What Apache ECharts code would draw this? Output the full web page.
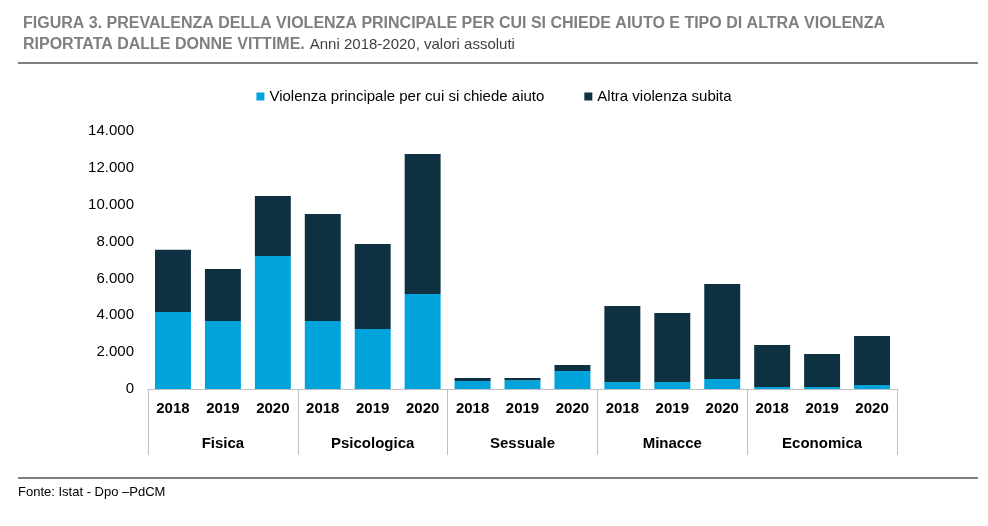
<!DOCTYPE html>
<html><head><meta charset="utf-8">
<script src="https://cdn.jsdelivr.net/npm/echarts@6/dist/echarts.min.js"></script>
<style>body{margin:0}#c{width:988px;height:526px}</style></head>
<body><div id="c"></div>
<script>
const years = ['2018','2019','2020','2018','2019','2020','2018','2019','2020','2018','2019','2020','2018','2019','2020'];
const groups = ['Fisica','Psicologica','Sessuale','Minacce','Economica'];
const principale = [4180,3690,7220, 3690,3260,5150, 430,480,980, 380,380,540, 110,110,220];
const totale = [7550,6510,10470, 9500,7870,12750, 600,600,1300, 4500,4120,5700, 2390,1900,2880];
const altra = totale.map((t,i)=>t-principale[i]);
const F = '"Liberation Sans Narrow","Liberation Sans",Arial,sans-serif';
const chart = echarts.init(document.getElementById('c'));
chart.setOption({
  animation:false,
  textStyle:{fontFamily:F},
  title:{left:18,top:8,text:'{b|FIGURA 3. PREVALENZA DELLA VIOLENZA PRINCIPALE PER CUI SI CHIEDE AIUTO E TIPO DI ALTRA VIOLENZA}\n{b|RIPORTATA DALLE DONNE VITTIME.} {n|Anni 2018-2020, valori assoluti}',
    textStyle:{fontWeight:'normal',rich:{b:{fontFamily:F,fontWeight:'bold',fontSize:16,color:'#7f7f7f',lineHeight:21},n:{fontFamily:F,fontWeight:'normal',fontSize:15,color:'#404040',lineHeight:21}}}},
  legend:{top:84,left:'center',itemWidth:8,itemHeight:8,itemGap:40,icon:'rect',textStyle:{fontFamily:F,fontSize:15,color:'#000'}},
  grid:{left:148,right:91,top:131,bottom:137},
  xAxis:[
    {type:'category',data:years,axisTick:{show:false},axisLine:{lineStyle:{color:'#bfbfbf'}},
     axisLabel:{fontFamily:F,fontWeight:'bold',fontSize:15,color:'#000',margin:12}},
    {type:'category',data:groups,position:'bottom',axisLine:{show:false},
     axisTick:{show:true,length:66,lineStyle:{color:'#bfbfbf'}},
     axisLabel:{fontFamily:F,fontWeight:'bold',fontSize:15,color:'#000',margin:47}}
  ],
  yAxis:{type:'value',min:0,max:14000,interval:2000,splitLine:{show:false},
    axisLabel:{fontFamily:F,fontSize:15,color:'#000',margin:14,formatter:v=>String(v).replace(/(\d)(?=(\d{3})+$)/g,'$1.')}},
  series:[
    {name:'Violenza principale per cui si chiede aiuto',type:'bar',stack:'a',data:principale,barWidth:'72%',itemStyle:{color:'#00A3DA'}},
    {name:'Altra violenza subita',type:'bar',stack:'a',data:altra,itemStyle:{color:'#0E3142'}}
  ],
  graphic:[
    {type:'line',shape:{x1:18,y1:63,x2:978,y2:63},style:{stroke:'#000',lineWidth:1}},
    {type:'line',shape:{x1:18,y1:478,x2:978,y2:478},style:{stroke:'#000',lineWidth:1}},
    {type:'text',left:18,top:486,style:{text:'Fonte: Istat - Dpo –PdCM',font:'13px '+F,fill:'#000'}}
  ]
});
</script></body></html>
